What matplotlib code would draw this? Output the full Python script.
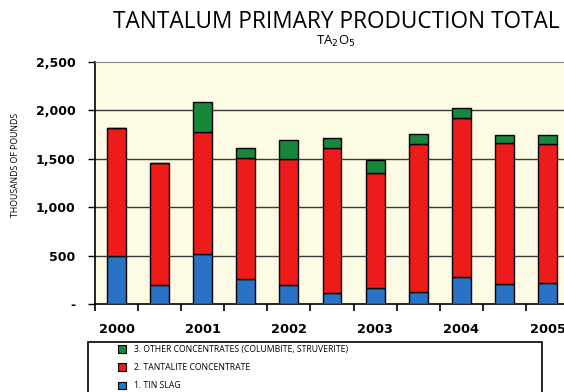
import numpy as np
import matplotlib.pyplot as plt
from matplotlib.patches import Patch, Rectangle

# half-year production, thousands of pounds Ta2O5
periods = np.arange(11)
year_labels = ['2000', '2001', '2002', '2003', '2004', '2005']
tin_slag = [500, 200, 520, 255, 200, 115, 170, 125, 280, 205, 220]
tantalite = [1320, 1260, 1260, 1255, 1295, 1495, 1180, 1525, 1640, 1460, 1430]
other_conc = [0, 0, 310, 105, 200, 100, 140, 105, 100, 85, 100]

series_labels = ['1. TIN SLAG', '2. TANTALITE CONCENTRATE',
                 '3. OTHER CONCENTRATES (COLUMBITE, STRUVERITE)']
colors = ['#2a72c6', '#ee1b1b', '#17873a']

fig = plt.figure(figsize=(5.64, 3.92), dpi=100)
ax = fig.add_axes([95 / 564, 88 / 392, 474 / 564, 242 / 392])
ax.set_facecolor('#fdfbe4')

w = 0.44
ax.bar(periods, tin_slag, w, color=colors[0], edgecolor='black', linewidth=1, zorder=3)
ax.bar(periods, tantalite, w, bottom=tin_slag, color=colors[1],
       edgecolor='black', linewidth=1, zorder=3)
base3 = np.array(tin_slag) + np.array(tantalite)
ax.bar(periods, other_conc, w, bottom=base3, color=colors[2],
       edgecolor='black', linewidth=1, zorder=3)

ax.set_xlim(-0.5, 10.5)
ax.set_ylim(0, 2500)

# gridlines
for v in [500, 1000, 1500, 2000]:
    ax.axhline(v, color='#3a3a3a', lw=1, zorder=1)

ax.set_yticks([0, 500, 1000, 1500, 2000, 2500])
ax.set_yticklabels(['-', '500', '1,000', '1,500', '2,000', '2,500'],
                   fontsize=9, fontweight='bold')
ax.tick_params(axis='y', direction='out', length=5, width=1, pad=9)

ax.set_xticks(periods[::2])
ax.set_xticklabels(year_labels, fontsize=9.3, fontweight='bold')
ax.set_xticks(np.arange(-0.5, 11, 1), minor=True)
ax.tick_params(axis='x', which='major', length=0, pad=14)
ax.tick_params(axis='x', which='minor', direction='out', length=5, width=1.2)

for s in ['left', 'bottom']:
    ax.spines[s].set_linewidth(1.2)
ax.spines['right'].set_visible(False)
ax.spines['top'].set_color('#8a8a8a')
ax.spines['top'].set_linestyle((0, (2, 1)))

fig.text(16 / 564, 1 - 165 / 392, 'THOUSANDS OF POUNDS', rotation=90,
         ha='center', va='center', fontsize=6.3, family='Open Sans')

fig.text(336 / 564, 1 - 22 / 392, 'TANTALUM PRIMARY PRODUCTION TOTAL',
         ha='center', va='center', fontsize=16.3, family='Open Sans')
fig.text(336 / 564, 1 - 41 / 392, r'TA$_2$O$_5$', ha='center', va='center',
         fontsize=9.5, family='Open Sans')

# legend box runs off the bottom of the figure
fig.patches.append(Rectangle((88 / 564, -0.05), 454 / 564, 1 - 342 / 392 + 0.05,
                             transform=fig.transFigure, facecolor='white',
                             edgecolor='black', linewidth=1.2, zorder=1))
handles = [Patch(facecolor=colors[i], edgecolor='black', linewidth=0.8) for i in [2, 1, 0]]
leg = fig.legend(handles, [series_labels[i] for i in [2, 1, 0]],
                 loc='upper left', bbox_to_anchor=(118 / 564, 1 - 345 / 392),
                 frameon=False, handlelength=0.9, handleheight=0.9,
                 handletextpad=0.9, labelspacing=1.05, borderpad=0, borderaxespad=0,
                 prop={'family': 'Open Sans', 'size': 6.2})

fig.savefig('out.png', dpi=100)
